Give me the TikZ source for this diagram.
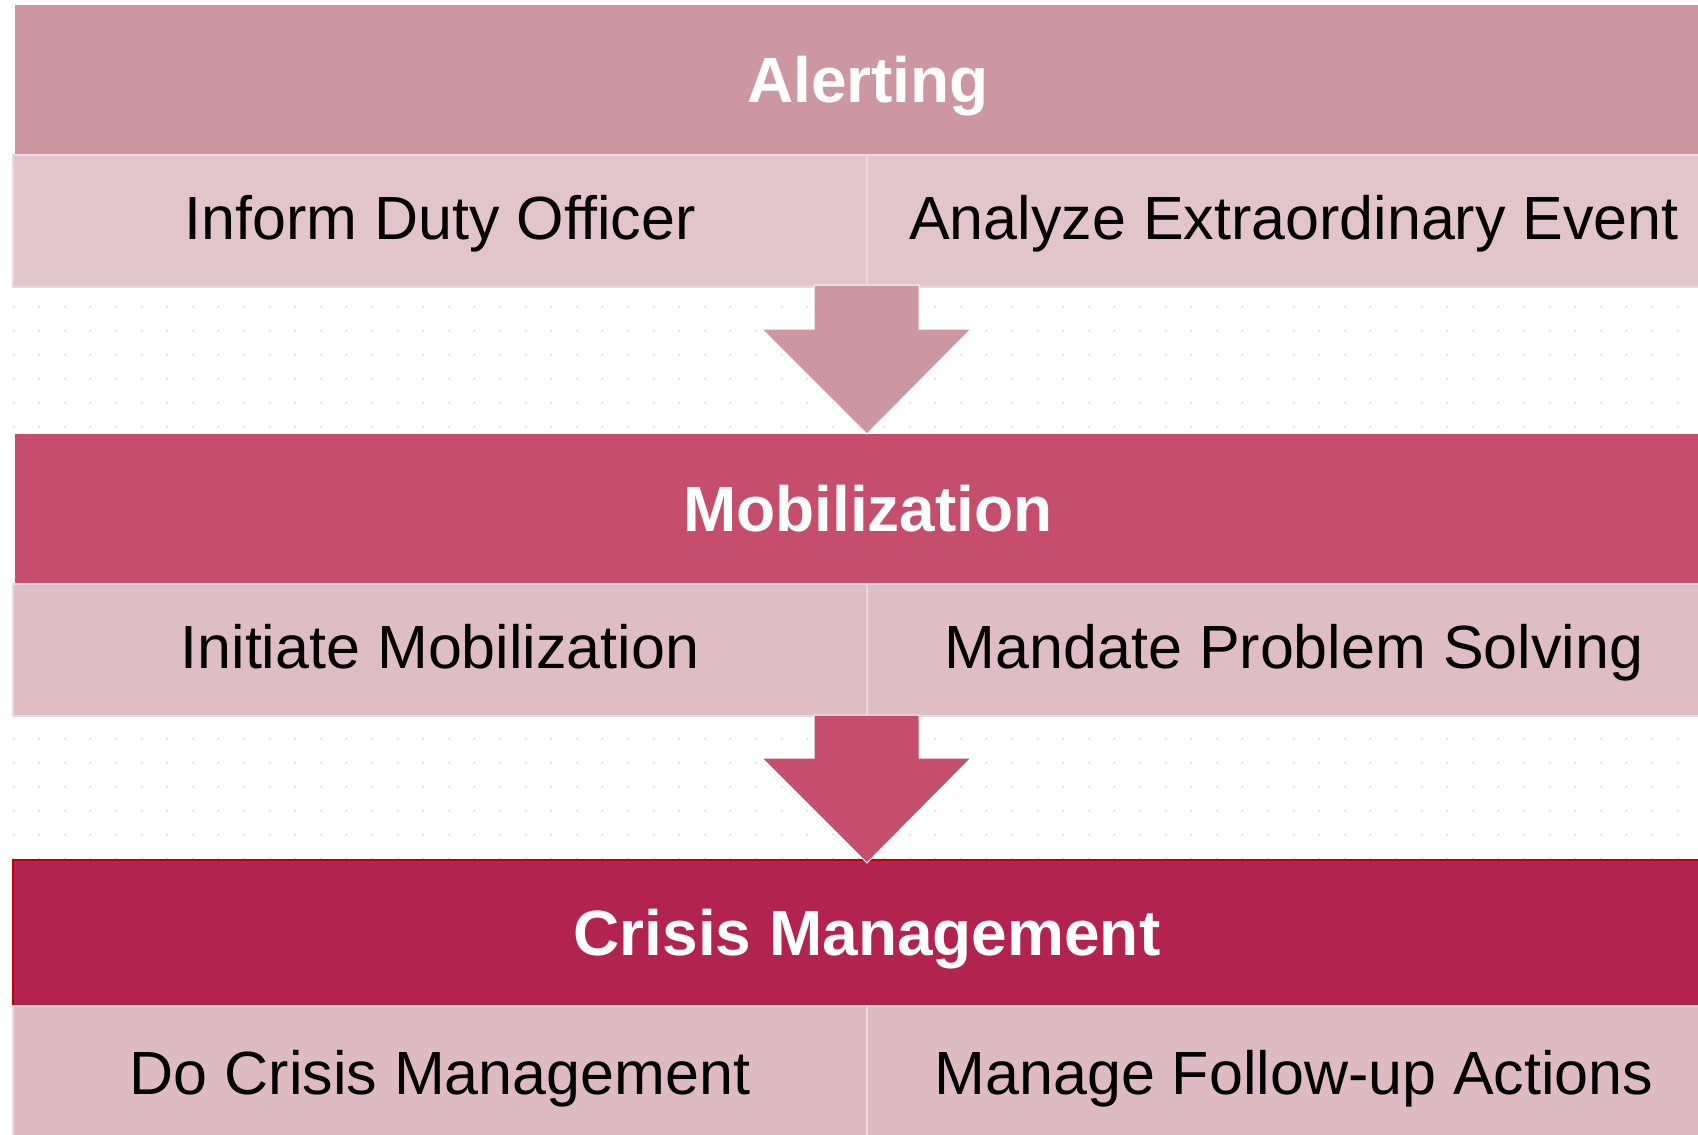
\documentclass[tikz,border=0pt]{standalone}
\usepackage{fontspec}
\setmainfont{Liberation Sans}
\definecolor{hdrA}{HTML}{CC97A1}
\definecolor{subA}{HTML}{E2C5CB}
\definecolor{hdrB}{HTML}{C44E6C}
\definecolor{subB}{HTML}{DFBDC5}
\definecolor{hdrC}{HTML}{B2234F}
\definecolor{subC}{HTML}{DEBAC2}
\definecolor{cellline}{HTML}{EBD9DD}
\definecolor{critred}{HTML}{C00000}
\definecolor{dotgray}{HTML}{D9D9D9}
\begin{document}
\begin{tikzpicture}[x=0.5pt,y=-0.5pt,
  hdrbox/.style={fill=#1, draw=none, anchor=north west, inner sep=0pt,
    minimum width=852.5pt, minimum height=74.5pt, text=white,
    font=\fontsize{32}{38}\selectfont\bfseries, text height=22.9pt, text depth=0pt},
  cellbox/.style={fill=#1, draw=cellline, line width=1pt, anchor=north west, inner sep=0pt,
    minimum height=66pt, text=black,
    font=\fontsize{30.5}{36}\selectfont, text height=21.8pt, text depth=3pt},
  leftcell/.style={cellbox=#1, minimum width=427pt},
  rightcell/.style={cellbox=#1, minimum width=427pt},
  blockarrow/.style={fill=#1, draw=white, line width=0.5pt, line join=miter}
]
\useasboundingbox (0,0) rectangle (1698,1135);
\fill[white] (0,0) rectangle (1698,1135);
% dotted canvas
\foreach \i in {0,...,66}{
  \foreach \j in {0,...,5,18,19,20,21,22,23}{
    \fill[dotgray] (13.7+25.6*\i, 306.7+24*\j) circle (0.55pt);
  }
}
% Alerting
\node[hdrbox=hdrA] (alert) at (15,5) {Alerting};
\node[leftcell=subA] (inform) at (12,154) {Inform Duty Officer};
\node[rightcell=subA] (analyze) at (866,154) {Analyze Extraordinary Event};
% Mobilization
\node[hdrbox=hdrB] (mobil) at (15,434) {Mobilization};
\node[leftcell=subB] (initiate) at (12,583) {Initiate Mobilization};
\node[rightcell=subB] (mandate) at (866,583) {Mandate Problem Solving};
% Crisis Management
\node[hdrbox=hdrC, draw=critred, line width=1pt, minimum width=854pt, minimum height=73pt] (crisis) at (12,859) {Crisis Management};
\node[leftcell=subC, minimum height=70pt] (docrisis) at (12,1005) {Do Crisis Management};
\node[rightcell=subC, minimum height=70pt] (followup) at (866,1005) {Manage Follow-up Actions};
% block arrows
\fill[blockarrow=hdrA] (814,285) -- (919,285) -- (919,329) -- (971,329) -- (867,434) -- (762,329) -- (814,329) -- cycle;
\fill[blockarrow=hdrB] (814,715) -- (919,715) -- (919,758) -- (971,758) -- (867,863) -- (762,758) -- (814,758) -- cycle;
\end{tikzpicture}
\end{document}
